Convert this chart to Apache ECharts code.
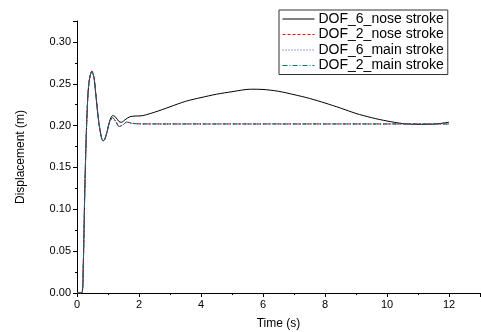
<!DOCTYPE html>
<html>
<head>
<meta charset="utf-8">
<script src="https://cdn.jsdelivr.net/npm/echarts@6/dist/echarts.min.js"></script>
<style>
  html, body { margin: 0; padding: 0; background: #fff; }
  #main { width: 481px; height: 332px; }
</style>
</head>
<body>
<div id="main"></div>
<script>
// time samples (s)
var timeNose6 = [0, 0.15, 0.2, 0.25, 0.3, 0.35, 0.4, 0.48, 0.55, 0.6, 0.7, 0.8, 0.86, 0.95, 1.05, 1.15, 1.25, 1.35, 1.43, 1.55, 1.7, 1.9, 2.0, 2.5, 3, 3.5, 4, 4.5, 5, 5.6, 6, 6.5, 7, 7.5, 8, 8.5, 9, 9.5, 10, 10.5, 11, 11.5, 12];
var timeOther = [0, 0.15, 0.2, 0.25, 0.3, 0.35, 0.4, 0.48, 0.55, 0.6, 0.7, 0.8, 0.86, 0.95, 1.05, 1.15, 1.25, 1.36, 1.5, 1.6, 1.75, 2.0, 3, 4, 6, 8, 10, 12];

// displacement (m)
var dof6Nose = [0, 0, 0.03, 0.12, 0.19, 0.235, 0.255, 0.265, 0.257, 0.24, 0.205, 0.184, 0.182, 0.19, 0.205, 0.212, 0.21, 0.205, 0.204, 0.207, 0.2105, 0.2115, 0.2115, 0.216, 0.2225, 0.229, 0.2335, 0.2375, 0.2405, 0.2435, 0.2432, 0.241, 0.237, 0.2325, 0.227, 0.221, 0.2145, 0.2095, 0.2055, 0.2025, 0.2015, 0.2018, 0.204];
var dof2Nose = [0, 0, 0.03, 0.12, 0.19, 0.235, 0.255, 0.265, 0.257, 0.24, 0.205, 0.184, 0.182, 0.19, 0.204, 0.2096, 0.205, 0.199, 0.2015, 0.2044, 0.203, 0.2022, 0.202, 0.202, 0.202, 0.202, 0.202, 0.202];
var dof6Main = [0, 0, 0.03, 0.12, 0.19, 0.235, 0.255, 0.265, 0.257, 0.24, 0.205, 0.184, 0.182, 0.19, 0.204, 0.2094, 0.2048, 0.1988, 0.2013, 0.2042, 0.2028, 0.202, 0.2019, 0.2019, 0.2019, 0.2019, 0.2019, 0.2019];
var dof2Main = [0, 0, 0.03, 0.12, 0.19, 0.235, 0.255, 0.265, 0.257, 0.24, 0.205, 0.184, 0.182, 0.19, 0.204, 0.2095, 0.2049, 0.199, 0.2014, 0.2043, 0.2029, 0.2021, 0.202, 0.202, 0.202, 0.202, 0.202, 0.202];

var seriesNames = ['DOF_6_nose stroke', 'DOF_2_nose stroke', 'DOF_6_main stroke', 'DOF_2_main stroke'];

function pairs(t, v) {
    var out = [];
    for (var i = 0; i < t.length; i++) out.push([t[i], v[i]]);
    return out;
}

var chart = echarts.init(document.getElementById('main'));
var font = 'Liberation Sans, Arial, sans-serif';

function line(name, t, v, color, type, width) {
    return {
        name: name,
        type: 'line',
        data: pairs(t, v),
        showSymbol: false,
        symbol: 'none',
        smooth: 0.3,
        lineStyle: { color: color, type: type, width: width },
        itemStyle: { color: color },
        animation: false
    };
}

var option = {
    backgroundColor: '#fff',
    animation: false,
    grid: { left: 77, right: 1, top: 21, bottom: 39, outerBoundsMode: 'none' },
    legend: {
        orient: 'vertical',
        left: 279,
        top: 10,
        padding: [2, 4, 2, 3],
        itemGap: 1.5,
        itemWidth: 32,
        itemHeight: 14,
        backgroundColor: '#fff',
        borderColor: '#333',
        borderWidth: 1,
        borderRadius: 0,
        itemStyle: { opacity: 0 },
        lineStyle: { width: 1 },
        textStyle: { fontFamily: font, fontSize: 14, color: '#000', padding: [0, 0, 0, -1] },
        data: seriesNames
    },
    xAxis: {
        type: 'value',
        min: 0,
        max: 13,
        interval: 2,
        name: 'Time (s)',
        nameLocation: 'middle',
        nameGap: 25,
        nameTextStyle: { fontFamily: font, fontSize: 12, color: '#000' },
        axisLine: { show: true, onZero: false, lineStyle: { color: '#000', width: 1 } },
        axisTick: { show: true, inside: false, length: 4, lineStyle: { color: '#000' } },
        minorTick: { show: true, splitNumber: 2, length: 2, lineStyle: { color: '#000' } },
        splitLine: { show: false },
        axisLabel: { fontFamily: font, fontSize: 11, color: '#000', margin: 6, showMaxLabel: false }
    },
    yAxis: {
        type: 'value',
        min: 0,
        max: 0.325,
        interval: 0.05,
        name: 'Displacement (m)',
        nameLocation: 'middle',
        nameGap: 50,
        nameTextStyle: { fontFamily: font, fontSize: 12, color: '#000' },
        axisLine: { show: true, onZero: false, lineStyle: { color: '#000', width: 1 } },
        axisTick: { show: true, inside: false, length: 4, lineStyle: { color: '#000' } },
        minorTick: { show: true, splitNumber: 2, length: 2, lineStyle: { color: '#000' } },
        splitLine: { show: false },
        axisLabel: {
            fontFamily: font, fontSize: 11, color: '#000', margin: 6, showMaxLabel: false,
            formatter: function (v) { return v.toFixed(2); }
        }
    },
    series: [
        line(seriesNames[0], timeNose6, dof6Nose, '#000000', 'solid', 1),
        line(seriesNames[1], timeOther, dof2Nose, '#ff0000', [3, 2], 1),
        line(seriesNames[2], timeOther, dof6Main, '#3344cc', [1, 2], 1),
        line(seriesNames[3], timeOther, dof2Main, '#007575', [5, 2, 1, 2], 1)
    ]
};
chart.setOption(option);
</script>
</body>
</html>
